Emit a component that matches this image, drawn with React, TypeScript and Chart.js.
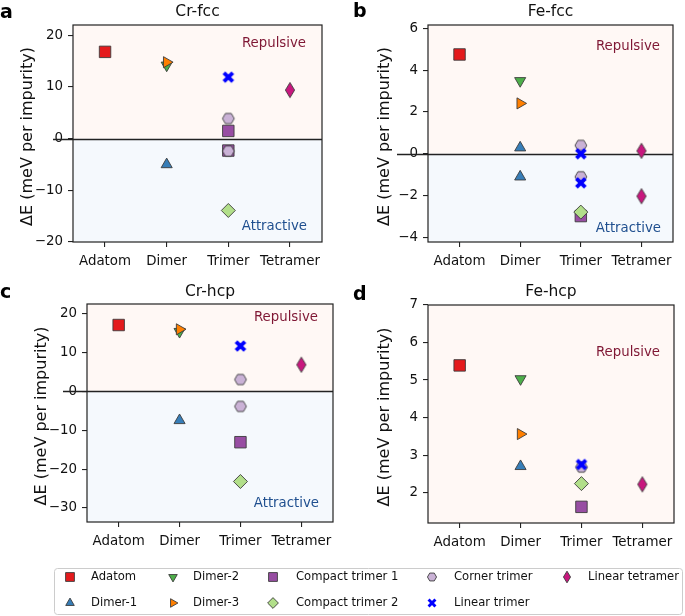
import React, { useEffect, useRef } from 'react';
import { Chart, registerables } from 'chart.js';
import { drawPoint } from 'chart.js/helpers';

Chart.register(...registerables);
Chart.defaults.font.family = '"DejaVu Sans", sans-serif';

// ---------------- data ----------------
const categories = ['Adatom', 'Dimer', 'Trimer', 'Tetramer'];
const seriesNames = [
  'Adatom', 'Dimer-1', 'Dimer-2', 'Dimer-3', 'Compact trimer 1',
  'Compact trimer 2', 'Corner trimer', 'Linear trimer', 'Linear tetramer',
];
const seriesCategory = [0, 1, 1, 1, 2, 2, 2, 2, 3];
const seriesColors = [
  '#e41a1c', '#377eb8', '#4daf4a', '#ff7f00', '#984ea3',
  '#b2df8a', '#cab2d6', '#0000ff', '#c8177e',
];

const crFccValues = [[16.8], [-5.0], [14.2], [14.8], [1.5, -2.3], [-13.9], [3.9, -2.4], [11.9], [9.4]];
const feFccValues = [[4.75], [0.29, -1.1], [3.49], [2.41], [-2.98], [-2.79], [0.4, -1.1], [0.0, -1.39], [0.14, -2.03]];
const crHcpValues = [[17.0], [-7.5], [15.3], [15.9], [-13.1], [-23.2], [3.0, -3.9], [11.6], [6.8]];
const feHcpValues = [[5.39], [2.70], [5.03], [3.56], [1.62], [2.24], [2.68], [2.75], [2.22]];

const crFccTicks = [-20, -10, 0, 10, 20];
const feFccTicks = [-4, -2, 0, 2, 4, 6];
const crHcpTicks = [-30, -20, -10, 0, 10, 20];
const feHcpTicks = [2, 3, 4, 5, 6, 7];

// ---------------- styles ----------------
const EDGE = '#3c3c3c';
const TEXT = '#111111';
const PINK = '#fff8f5';
const BLUE = '#f5f9fd';
const REP_COLOR = '#7f1734';
const ATT_COLOR = '#1f4f8f';

type Kind = 'rect' | 'triUp' | 'triDown' | 'triRight' | 'diamond' | 'hexagon' | 'xFilled' | 'thinDiamond';
const seriesKinds: Kind[] = ['rect', 'triUp', 'triDown', 'triRight', 'rect', 'diamond', 'hexagon', 'xFilled', 'thinDiamond'];

const canvasCache: Record<string, HTMLCanvasElement> = {};
function customMarker(kind: Kind, fill: string, scale: number): HTMLCanvasElement {
  const key = kind + fill + scale;
  if (canvasCache[key]) return canvasCache[key];
  const size = 20;
  const c = document.createElement('canvas');
  c.width = size;
  c.height = size;
  const ctx = c.getContext('2d')!;
  ctx.translate(size / 2, size / 2);
  ctx.scale(scale, scale);
  ctx.fillStyle = fill;
  ctx.strokeStyle = EDGE;
  ctx.lineWidth = 0.9 / scale;
  ctx.beginPath();
  if (kind === 'hexagon') {
    const r = 5.9;
    for (let k = 0; k < 6; k++) {
      const a = (k * Math.PI) / 3;
      const px = r * Math.cos(a);
      const py = r * Math.sin(a);
      if (k === 0) ctx.moveTo(px, py); else ctx.lineTo(px, py);
    }
    ctx.closePath();
    ctx.fill();
    ctx.stroke();
  } else if (kind === 'thinDiamond') {
    ctx.moveTo(0, -7.6);
    ctx.lineTo(4.6, 0);
    ctx.lineTo(0, 7.6);
    ctx.lineTo(-4.6, 0);
    ctx.closePath();
    ctx.fill();
    ctx.stroke();
  } else if (kind === 'xFilled') {
    const L = 6.3;
    const t = 1.9;
    for (const ang of [Math.PI / 4, -Math.PI / 4]) {
      ctx.save();
      ctx.rotate(ang);
      ctx.beginPath();
      ctx.rect(-L, -t, 2 * L, 2 * t);
      ctx.fill();
      ctx.restore();
    }
  }
  canvasCache[key] = c;
  return c;
}

function markerStyle(i: number, scale: number) {
  const kind = seriesKinds[i];
  const fill = seriesColors[i];
  const base = {
    pointBackgroundColor: fill,
    pointBorderColor: kind === 'xFilled' ? fill : EDGE,
    pointBorderWidth: 0.9,
    pointRotation: 0,
    pointRadius: 6 * scale,
    pointStyle: 'circle' as any,
  };
  switch (kind) {
    case 'rect': return { ...base, pointStyle: 'rect', pointRadius: 8.1 * scale };
    case 'triUp': return { ...base, pointStyle: 'triangle', pointRadius: 6.4 * scale };
    case 'triDown': return { ...base, pointStyle: 'triangle', pointRadius: 6.4 * scale, pointRotation: 180 };
    case 'triRight': return { ...base, pointStyle: 'triangle', pointRadius: 6.4 * scale, pointRotation: 90 };
    case 'diamond': return { ...base, pointStyle: 'rectRot', pointRadius: 7 * scale };
    default: return { ...base, pointStyle: customMarker(kind, fill, scale) };
  }
}

// ---------------- layout of panels ----------------
interface Panel {
  letter: string;
  title: string;
  values: number[][];
  ticks: number[];
  yMin: number;
  yMax: number;
  box: { left: number; top: number; width: number; height: number };
  area: { left: number; right: number; top: number; bottom: number };
  zeroExt: number;
  yLabelX: number;
  letterPos: [number, number];
  rep: [number, number];
  att: [number, number] | null;
}

const panels: Panel[] = [
  {
    letter: 'a', title: 'Cr-fcc', values: crFccValues, ticks: crFccTicks, yMin: -20, yMax: 22,
    box: { left: 0, top: 0, width: 342, height: 280 },
    area: { left: 73, right: 322, top: 25, bottom: 242 },
    zeroExt: 20, yLabelX: 28, letterPos: [0, 18], rep: [16, 19], att: [15, 15],
  },
  {
    letter: 'b', title: 'Fe-fcc', values: feFccValues, ticks: feFccTicks, yMin: -4.22, yMax: 6.16,
    box: { left: 342, top: 0, width: 343, height: 280 },
    area: { left: 86, right: 331, top: 25, bottom: 242 },
    zeroExt: 31, yLabelX: 43, letterPos: [11, 17], rep: [13, 22], att: [12, 13],
  },
  {
    letter: 'c', title: 'Cr-hcp', values: crHcpValues, ticks: crHcpTicks, yMin: -33.6, yMax: 22.4,
    box: { left: 0, top: 280, width: 342, height: 280 },
    area: { left: 87, right: 333, top: 24, bottom: 242 },
    zeroExt: 24, yLabelX: 42, letterPos: [0, 18], rep: [15, 14], att: [14, 18],
  },
  {
    letter: 'd', title: 'Fe-hcp', values: feHcpValues, ticks: feHcpTicks, yMin: 1.19, yMax: 7,
    box: { left: 342, top: 280, width: 343, height: 280 },
    area: { left: 86, right: 332, top: 25, bottom: 243 },
    zeroExt: 0, yLabelX: 43, letterPos: [11, 20], rep: [14, 48], att: null,
  },
];

const fmtTick = (v: number) => (v < 0 ? '\u2212' + Math.abs(v) : String(v));

const decorPlugin = {
  id: 'panelDecor',
  beforeDraw(chart: any) {
    const { ctx, chartArea } = chart;
    const y = chart.scales.y;
    const zero = Math.max(chartArea.top, Math.min(chartArea.bottom, y.getPixelForValue(0)));
    ctx.save();
    ctx.fillStyle = PINK;
    ctx.fillRect(chartArea.left, chartArea.top, chartArea.right - chartArea.left, zero - chartArea.top);
    ctx.fillStyle = BLUE;
    ctx.fillRect(chartArea.left, zero, chartArea.right - chartArea.left, chartArea.bottom - zero);
    ctx.restore();
  },
  beforeDatasetsDraw(chart: any, _a: any, opts: any) {
    const p: Panel = opts.panel;
    const { ctx, chartArea } = chart;
    const y = chart.scales.y;
    if (p.yMin < 0 && p.yMax > 0) {
      const zy = Math.round(y.getPixelForValue(0)) + 0.5;
      ctx.save();
      ctx.strokeStyle = '#222';
      ctx.lineWidth = 1.4;
      ctx.beginPath();
      ctx.moveTo(chartArea.left - p.zeroExt, zy);
      ctx.lineTo(chartArea.right, zy);
      ctx.stroke();
      ctx.restore();
    }
  },
  afterDatasetsDraw(chart: any, _a: any, opts: any) {
    const p: Panel = opts.panel;
    const { ctx, chartArea } = chart;
    ctx.save();
    // frame
    ctx.strokeStyle = '#222';
    ctx.lineWidth = 1.2;
    ctx.strokeRect(chartArea.left, chartArea.top, chartArea.right - chartArea.left, chartArea.bottom - chartArea.top);
    // title
    ctx.fillStyle = TEXT;
    ctx.font = '15.5px "DejaVu Sans"';
    ctx.textAlign = 'center';
    ctx.textBaseline = 'alphabetic';
    ctx.fillText(p.title, (chartArea.left + chartArea.right) / 2, 16);
    // panel letter
    ctx.font = 'bold 19px "DejaVu Sans"';
    ctx.textAlign = 'left';
    ctx.fillStyle = '#000';
    ctx.fillText(p.letter, p.letterPos[0], p.letterPos[1]);
    // y label
    ctx.save();
    ctx.translate(p.yLabelX, (chartArea.top + chartArea.bottom) / 2 + 3);
    ctx.rotate(-Math.PI / 2);
    ctx.font = '16px "DejaVu Sans"';
    ctx.textAlign = 'center';
    ctx.textBaseline = 'middle';
    ctx.fillStyle = TEXT;
    ctx.fillText('\u0394E (meV per impurity)', 0, 0);
    ctx.restore();
    // region labels
    ctx.font = '13.3px "DejaVu Sans"';
    ctx.textAlign = 'right';
    ctx.textBaseline = 'middle';
    ctx.fillStyle = REP_COLOR;
    ctx.fillText('Repulsive', chartArea.right - p.rep[0], chartArea.top + p.rep[1]);
    if (p.att) {
      ctx.fillStyle = ATT_COLOR;
      ctx.fillText('Attractive', chartArea.right - p.att[0], chartArea.bottom - p.att[1]);
    }
    ctx.restore();
  },
};

function makeConfig(p: Panel): any {
  const tickFont = { size: 13.4, family: '"DejaVu Sans"' };
  return {
    type: 'scatter',
    data: {
      datasets: seriesNames.map((name, i) => ({
        label: name,
        data: p.values[i].map((v) => ({ x: seriesCategory[i], y: v })),
        order: seriesNames.length - i,
        showLine: false,
        ...markerStyle(i, 1),
      })),
    },
    options: {
      animation: false,
      responsive: false,
      events: [],
      layout: { padding: { left: 0, top: p.area.top, right: p.box.width - p.area.right, bottom: 0 } },
      scales: {
        x: {
          type: 'linear',
          min: -0.52,
          max: 3.52,
          afterBuildTicks: (s: any) => { s.ticks = categories.map((_, i) => ({ value: i })); },
          afterFit: (s: any) => { s.height = p.box.height - p.area.bottom; },
          ticks: {
            callback: (v: number) => categories[v] ?? '',
            font: tickFont, color: TEXT, padding: 6, maxRotation: 0, autoSkip: false,
          },
          grid: { drawOnChartArea: false, drawTicks: true, tickLength: 5, color: '#222', lineWidth: 1.1 },
          border: { display: false },
        },
        y: {
          type: 'linear',
          min: p.yMin,
          max: p.yMax,
          afterBuildTicks: (s: any) => { s.ticks = p.ticks.map((v) => ({ value: v })); },
          afterFit: (s: any) => { s.width = p.area.left; },
          ticks: { callback: (v: number) => fmtTick(v), font: tickFont, color: TEXT, padding: 5 },
          grid: { drawOnChartArea: false, drawTicks: true, tickLength: 5, color: '#222', lineWidth: 1.1 },
          border: { display: false },
        },
      },
      plugins: {
        legend: { display: false },
        tooltip: { enabled: false },
        panelDecor: { panel: p },
      },
    },
    plugins: [decorPlugin],
  };
}

function PanelChart({ panel }: { panel: Panel }) {
  const ref = useRef<HTMLCanvasElement>(null);
  useEffect(() => {
    const chart = new Chart(ref.current!, makeConfig(panel));
    return () => chart.destroy();
  }, [panel]);
  return (
    <canvas
      ref={ref}
      width={panel.box.width}
      height={panel.box.height}
      style={{ position: 'absolute', left: panel.box.left, top: panel.box.top, width: panel.box.width, height: panel.box.height }}
    />
  );
}

// ---------------- legend ----------------
const legendColMarkerX = [70, 173, 273, 432, 567];
const legendColTextX = [91, 193, 296, 454, 588];
const legendRowY = [17, 43];

const legendPlugin = {
  id: 'figLegend',
  afterDraw(chart: any) {
    const { ctx } = chart;
    ctx.save();
    const bx = 54.5, by = 8.5, bw = 628, bh = 46, r = 3;
    ctx.beginPath();
    ctx.moveTo(bx + r, by);
    ctx.lineTo(bx + bw - r, by);
    ctx.arcTo(bx + bw, by, bx + bw, by + r, r);
    ctx.lineTo(bx + bw, by + bh - r);
    ctx.arcTo(bx + bw, by + bh, bx + bw - r, by + bh, r);
    ctx.lineTo(bx + r, by + bh);
    ctx.arcTo(bx, by + bh, bx, by + bh - r, r);
    ctx.lineTo(bx, by + r);
    ctx.arcTo(bx, by, bx + r, by, r);
    ctx.closePath();
    ctx.fillStyle = '#ffffff';
    ctx.fill();
    ctx.strokeStyle = '#cccccc';
    ctx.lineWidth = 1;
    ctx.stroke();

    chart.data.datasets.forEach((ds: any, i: number) => {
      const col = Math.floor(i / 2);
      const row = i % 2;
      const mx = legendColMarkerX[col];
      const my = legendRowY[row];
      ctx.fillStyle = ds.pointBackgroundColor;
      ctx.strokeStyle = ds.pointBorderColor;
      ctx.lineWidth = ds.pointBorderWidth;
      drawPoint(ctx, {
        pointStyle: ds.pointStyle,
        rotation: ds.pointRotation,
        radius: ds.pointRadius,
        borderWidth: ds.pointBorderWidth,
      } as any, mx, my);
      ctx.fillStyle = TEXT;
      ctx.font = '11.6px "DejaVu Sans"';
      ctx.textAlign = 'left';
      ctx.textBaseline = 'middle';
      ctx.fillText(ds.label, legendColTextX[col], my);
    });
    ctx.restore();
  },
};

function LegendChart() {
  const ref = useRef<HTMLCanvasElement>(null);
  useEffect(() => {
    const chart = new Chart(ref.current!, {
      type: 'scatter',
      data: {
        datasets: seriesNames.map((name, i) => ({
          label: name,
          data: [],
          ...markerStyle(i, 0.77),
        })) as any,
      },
      options: {
        animation: false,
        responsive: false,
        events: [],
        scales: { x: { display: false }, y: { display: false } },
        plugins: { legend: { display: false }, tooltip: { enabled: false } },
      },
      plugins: [legendPlugin],
    } as any);
    return () => chart.destroy();
  }, []);
  return (
    <canvas
      ref={ref}
      width={685}
      height={56}
      style={{ position: 'absolute', left: 0, top: 560, width: 685, height: 56 }}
    />
  );
}

export default function App() {
  return (
    <div style={{ position: 'absolute', left: 0, top: 0, width: 685, height: 616, background: '#ffffff' }}>
      {panels.map((p) => (
        <PanelChart key={p.letter} panel={p} />
      ))}
      <LegendChart />
    </div>
  );
}
